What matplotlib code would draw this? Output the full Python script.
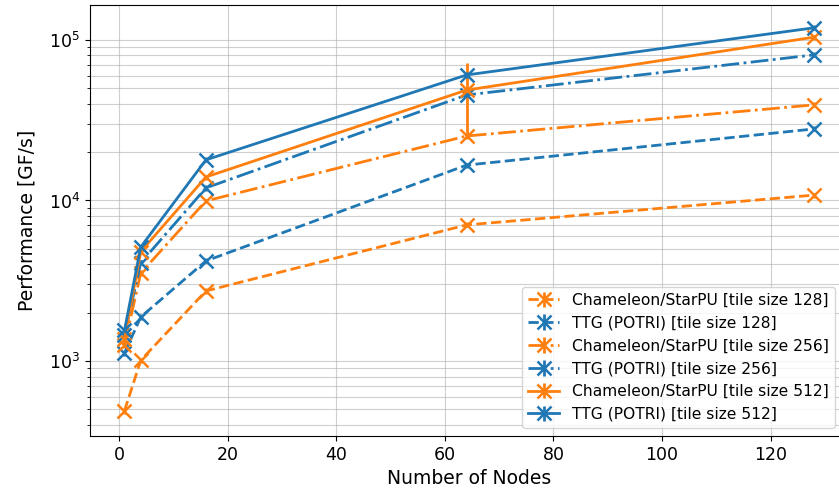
import matplotlib
matplotlib.use("Agg")
import matplotlib.pyplot as plt

# number of nodes
nodes = [1, 4, 16, 64, 128]

# performance [GF/s]
cham_128 = [489, 1010, 2730, 7040, 10800]
ttg_128 = [1120, 1880, 4200, 16600, 27900]
cham_256 = [1260, 3530, 9930, 25200, 39400]
ttg_256 = [1450, 4090, 11970, 45400, 80700]
cham_512 = [1380, 4800, 14000, 48700, 104000]
ttg_512 = [1550, 5130, 17900, 60500, 119000]

# error bars (mostly hidden under the markers)
cham_128_err = [20, 40, 100, 250, 400]
ttg_128_err = [40, 70, 150, 600, 1000]
cham_256_err = [50, 130, 350, 900, 1400]
ttg_256_err = [50, 150, 450, 1600, 2900]
cham_512_err = [50, 170, 500, 23500, 3700]
ttg_512_err = [60, 180, 650, 2200, 4300]

series = [
    ("Chameleon/StarPU [tile size 128]", cham_128, cham_128_err, "#ff7f0e", "--"),
    ("TTG (POTRI) [tile size 128]", ttg_128, ttg_128_err, "#1f77b4", "--"),
    ("Chameleon/StarPU [tile size 256]", cham_256, cham_256_err, "#ff7f0e", "-."),
    ("TTG (POTRI) [tile size 256]", ttg_256, ttg_256_err, "#1f77b4", "-."),
    ("Chameleon/StarPU [tile size 512]", cham_512, cham_512_err, "#ff7f0e", "-"),
    ("TTG (POTRI) [tile size 512]", ttg_512, ttg_512_err, "#1f77b4", "-"),
]

fig = plt.figure(figsize=(8.39, 4.94), dpi=100)
ax = fig.add_axes([90/839, 58/494, 758.6/839, 431/494])

for label, vals, err, col, ls in series:
    ax.errorbar(nodes, vals, yerr=err, label=label, color=col, linestyle=ls,
                marker="x", markersize=10, markeredgewidth=1.8, linewidth=2.0,
                elinewidth=2.0, capsize=0)

ax.set_yscale("log")
ax.set_xlim(-5.35, 134.35)
ax.set_ylim(341, 1.65e5)
ax.grid(True, which="major", color="#b0b0b0", linewidth=0.8, alpha=0.6)
ax.grid(True, which="minor", axis="y", color="#b0b0b0", linewidth=0.8, alpha=0.6)
ax.tick_params(labelsize=12.5)
ax.set_xlabel("Number of Nodes", fontsize=13.5)
ax.set_ylabel("Performance [GF/s]", fontsize=13.5, labelpad=9)
ax.legend(loc="lower right", bbox_to_anchor=(835/839, 66/494),
          bbox_transform=fig.transFigure, borderaxespad=0, fontsize=11.2,
          handlelength=2.0, labelspacing=0.5)

fig.savefig("out.png", dpi=100)
